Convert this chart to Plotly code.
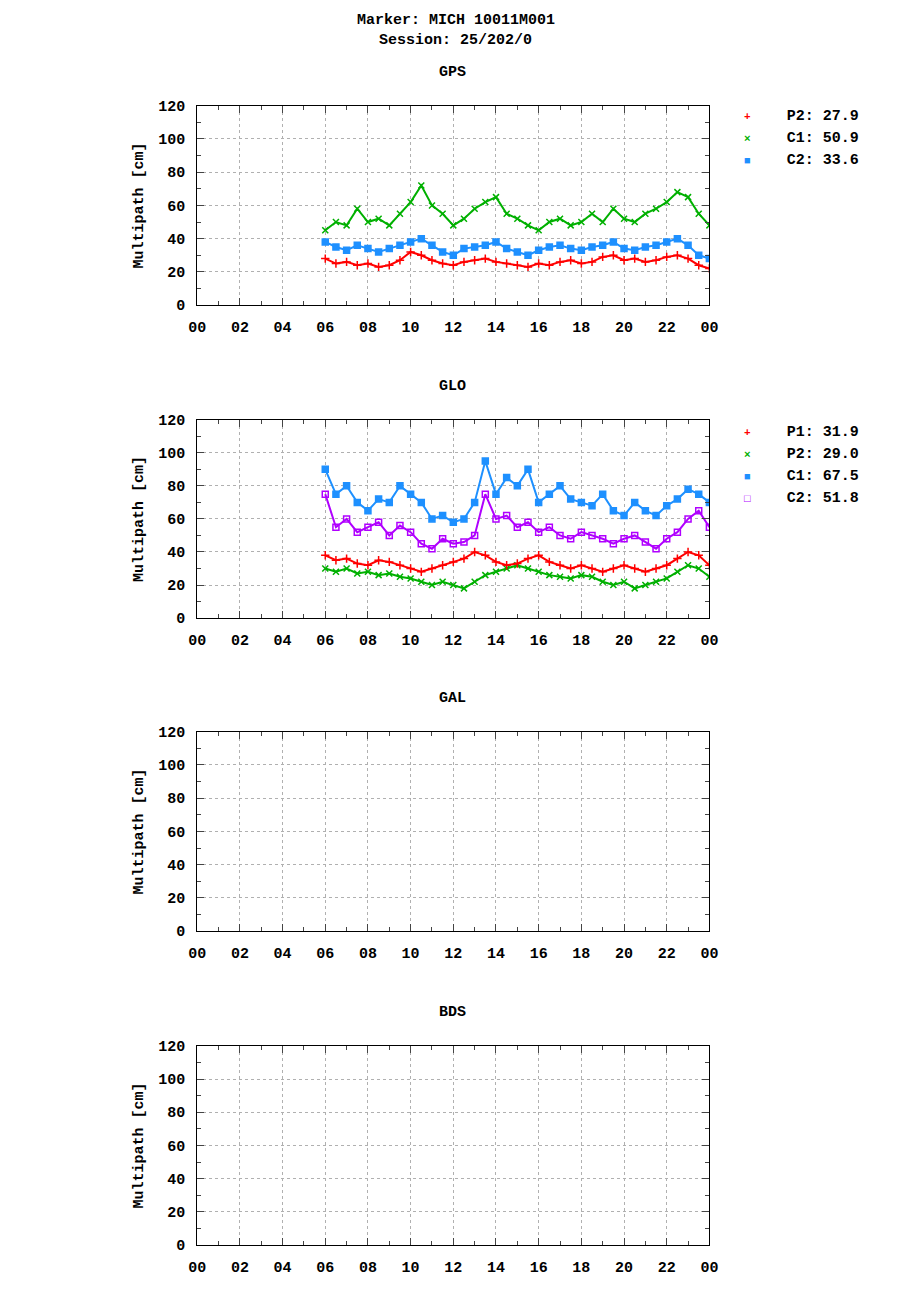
import plotly.graph_objects as go

hours = [6 + 0.5 * i for i in range(37)]
x_ticks = [0, 2, 4, 6, 8, 10, 12, 14, 16, 18, 20, 22, 24]
x_labels = ["00", "02", "04", "06", "08", "10", "12", "14", "16", "18", "20", "22", "00"]
y_ticks = [0, 20, 40, 60, 80, 100, 120]

gps_p2 = [28,25,26,24,25,23,24,27,32,30,27,25,24,26,27,28,26,25,24,23,25,24,26,27,25,26,29,30,27,28,26,27,29,30,28,24,22]
gps_c1 = [45,50,48,58,50,52,48,55,62,72,60,55,48,52,58,62,65,55,52,48,45,50,52,48,50,55,50,58,52,50,55,58,62,68,65,55,48]
gps_c2 = [38,35,33,36,34,32,34,36,38,40,36,32,30,34,35,36,38,34,32,30,33,35,36,34,33,35,36,38,34,33,35,36,38,40,36,30,28]

glo_p1 = [38,35,36,33,32,35,34,32,30,28,30,32,34,36,40,38,34,32,33,36,38,34,32,30,32,30,28,30,32,30,28,30,32,36,40,38,32]
glo_p2 = [30,28,30,27,28,26,27,25,24,22,20,22,20,18,22,26,28,30,32,30,28,26,25,24,26,25,22,20,22,18,20,22,24,28,32,30,25]
glo_c1 = [90,75,80,70,65,72,70,80,75,70,60,62,58,60,70,95,75,85,80,90,70,75,80,72,70,68,75,65,62,70,65,62,68,72,78,75,70]
glo_c2 = [75,55,60,52,55,58,50,56,52,45,42,48,45,46,50,75,60,62,55,58,52,55,50,48,52,50,48,45,48,50,46,42,48,52,60,65,55]

gps_legend = [("P2: 27.9", "+", "#ff0000"), ("C1: 50.9", "×", "#00b000"), ("C2: 33.6", "■", "#1e90ff")]
glo_legend = [("P1: 31.9", "+", "#ff0000"), ("P2: 29.0", "×", "#00b000"),
              ("C1: 67.5", "■", "#1e90ff"), ("C2: 51.8", "□", "#b000ff")]

FONT = "Liberation Mono"
W, H = 920, 1300
panels = [("GPS", 105, 305), ("GLO", 420, 619), ("GAL", 733, 933), ("BDS", 1048, 1248)]

def px(r):
    return (r - 15.5) / 0.982 / W

def py(r):
    return 1 - (r - 14) / 0.99 / H

fig = go.Figure()

def add(series, sym, color, axis_i):
    s = str(axis_i) if axis_i > 1 else ""
    fig.add_trace(go.Scatter(
        x=hours, y=series, mode="lines+markers",
        line=dict(color=color, width=2),
        marker=dict(symbol=sym, size=6, color=color, line=dict(color=color, width=1.5)),
        xaxis="x" + s, yaxis="y" + s, showlegend=False))

add(gps_c2, "square", "#1e90ff", 1)
add(gps_c1, "x-thin-open", "#00b000", 1)
add(gps_p2, "cross-thin-open", "#ff0000", 1)
add(glo_c1, "square", "#1e90ff", 2)
add(glo_c2, "square-open", "#b000ff", 2)
add(glo_p2, "x-thin-open", "#00b000", 2)
add(glo_p1, "cross-thin-open", "#ff0000", 2)
for i in (3, 4):
    fig.add_trace(go.Scatter(x=[], y=[], xaxis="x%d" % i, yaxis="y%d" % i, showlegend=False))

layout = dict(width=W, height=H, margin=dict(l=0, r=0, t=0, b=0),
              plot_bgcolor="white", paper_bgcolor="white",
              font=dict(family=FONT, size=15, color="black"))
annotations = [
    dict(text="<b>Marker: MICH 10011M001</b>", x=px(455), y=py(20), xref="paper", yref="paper",
         yanchor="middle", showarrow=False),
    dict(text="<b>Session: 25/202/0</b>", x=px(455), y=py(40), xref="paper", yref="paper",
         yanchor="middle", showarrow=False),
]
for i, (name, top, bot) in enumerate(panels, start=1):
    s = str(i) if i > 1 else ""
    layout["xaxis" + s] = dict(domain=[px(196), px(709)], range=[0, 24], tickvals=x_ticks,
                               ticktext=["<b>%s</b>" % t for t in x_labels],
                               ticks="inside", ticklen=7, ticklabelstandoff=8,
                               minor=dict(dtick=1, ticks="inside", ticklen=4, showgrid=False),
                               showline=True, linecolor="black", mirror="ticks", showgrid=True,
                               gridcolor="#b0b0b0", griddash="dot", zeroline=False,
                               tickfont=dict(family=FONT, size=15), anchor="y" + s)
    layout["yaxis" + s] = dict(domain=[py(bot), py(top)], range=[0, 120], tickvals=y_ticks,
                               ticktext=["<b>%d</b>" % t for t in y_ticks],
                               ticks="inside", ticklen=7, ticklabelstandoff=8,
                               minor=dict(dtick=10, ticks="inside", ticklen=4, showgrid=False),
                               showline=True, linecolor="black", mirror="ticks", showgrid=True,
                               gridcolor="#b0b0b0", griddash="dot", zeroline=False,
                               tickfont=dict(family=FONT, size=15), anchor="x" + s,
                               title=dict(text="<b>Multipath [cm]</b>", font=dict(family=FONT, size=15), standoff=10))
    annotations.append(dict(text="<b>%s</b>" % name, x=px(452), y=py(top - 33), xref="paper", yref="paper",
                            yanchor="middle", showarrow=False))

for legend, top in [(gps_legend, 116), (glo_legend, 433)]:
    for j, (lab, sym, col) in enumerate(legend):
        txt = '<span style="color:%s;font-size:11px"><b>%s</b></span>    <b>%s</b>' % (col, sym, lab)
        annotations.append(dict(text=txt, x=px(742), y=py(top + j * 22), xref="paper", yref="paper",
                                xanchor="left", yanchor="middle", showarrow=False))

layout["annotations"] = annotations
fig.update_layout(**layout)
fig.write_html("out.html")
